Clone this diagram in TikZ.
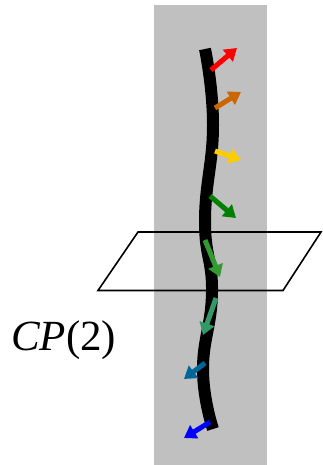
\documentclass[tikz,border=0pt]{standalone}
\usepackage{fontspec}
\setmainfont{Liberation Serif}
\usetikzlibrary{arrows.meta}
\definecolor{cA}{RGB}{255,0,0}
\definecolor{cB}{RGB}{204,102,0}
\definecolor{cC}{RGB}{255,204,0}
\definecolor{cD}{RGB}{0,128,0}
\definecolor{cE}{RGB}{51,153,51}
\definecolor{cF}{RGB}{51,153,102}
\definecolor{cG}{RGB}{0,102,153}
\definecolor{cH}{RGB}{0,0,255}
\definecolor{slab}{RGB}{192,192,192}
\tikzset{
  vec/.style={line width=5pt,-{Triangle[length=12pt,width=15pt]}},
  string/.style={line width=12pt,line cap=butt},
  plane/.style={draw=black,line width=1.6pt,line join=miter}
}
\begin{document}
\begin{tikzpicture}[x=1pt,y=-1pt]
\useasboundingbox (0,0) rectangle (322,465);
\fill[slab] (154,5) rectangle (267,465);
\draw[plane] (138,232) -- (321,232) -- (283,290.5) -- (98,290.5) -- cycle;
\draw[string] plot[smooth,tension=0.8] coordinates {(205,49) (213,125) (205,220) (212,292) (203,370) (213,429)};
\coordinate (a1) at (211,70);  \coordinate (b1) at (237,48);
\coordinate (a2) at (215,108); \coordinate (b2) at (241,92);
\coordinate (a3) at (215,151); \coordinate (b3) at (241,160);
\coordinate (a4) at (210,196); \coordinate (b4) at (236,218);
\coordinate (a5) at (205,240); \coordinate (b5) at (220,277);
\coordinate (a6) at (216,298); \coordinate (b6) at (203,335);
\coordinate (a7) at (205,363); \coordinate (b7) at (184,379);
\coordinate (a8) at (210,422); \coordinate (b8) at (184,438);
\draw[vec,cA] (a1) -- (b1);
\draw[vec,cB] (a2) -- (b2);
\draw[vec,cC] (a3) -- (b3);
\draw[vec,cD] (a4) -- (b4);
\draw[vec,cE] (a5) -- (b5);
\draw[vec,cF] (a6) -- (b6);
\draw[vec,cG] (a7) -- (b7);
\draw[vec,cH] (a8) -- (b8);
\node[anchor=base west,inner sep=0pt,font=\fontsize{43}{46}\selectfont] (lbl) at (11,350) {\textit{CP}(2)};
\end{tikzpicture}
\end{document}
